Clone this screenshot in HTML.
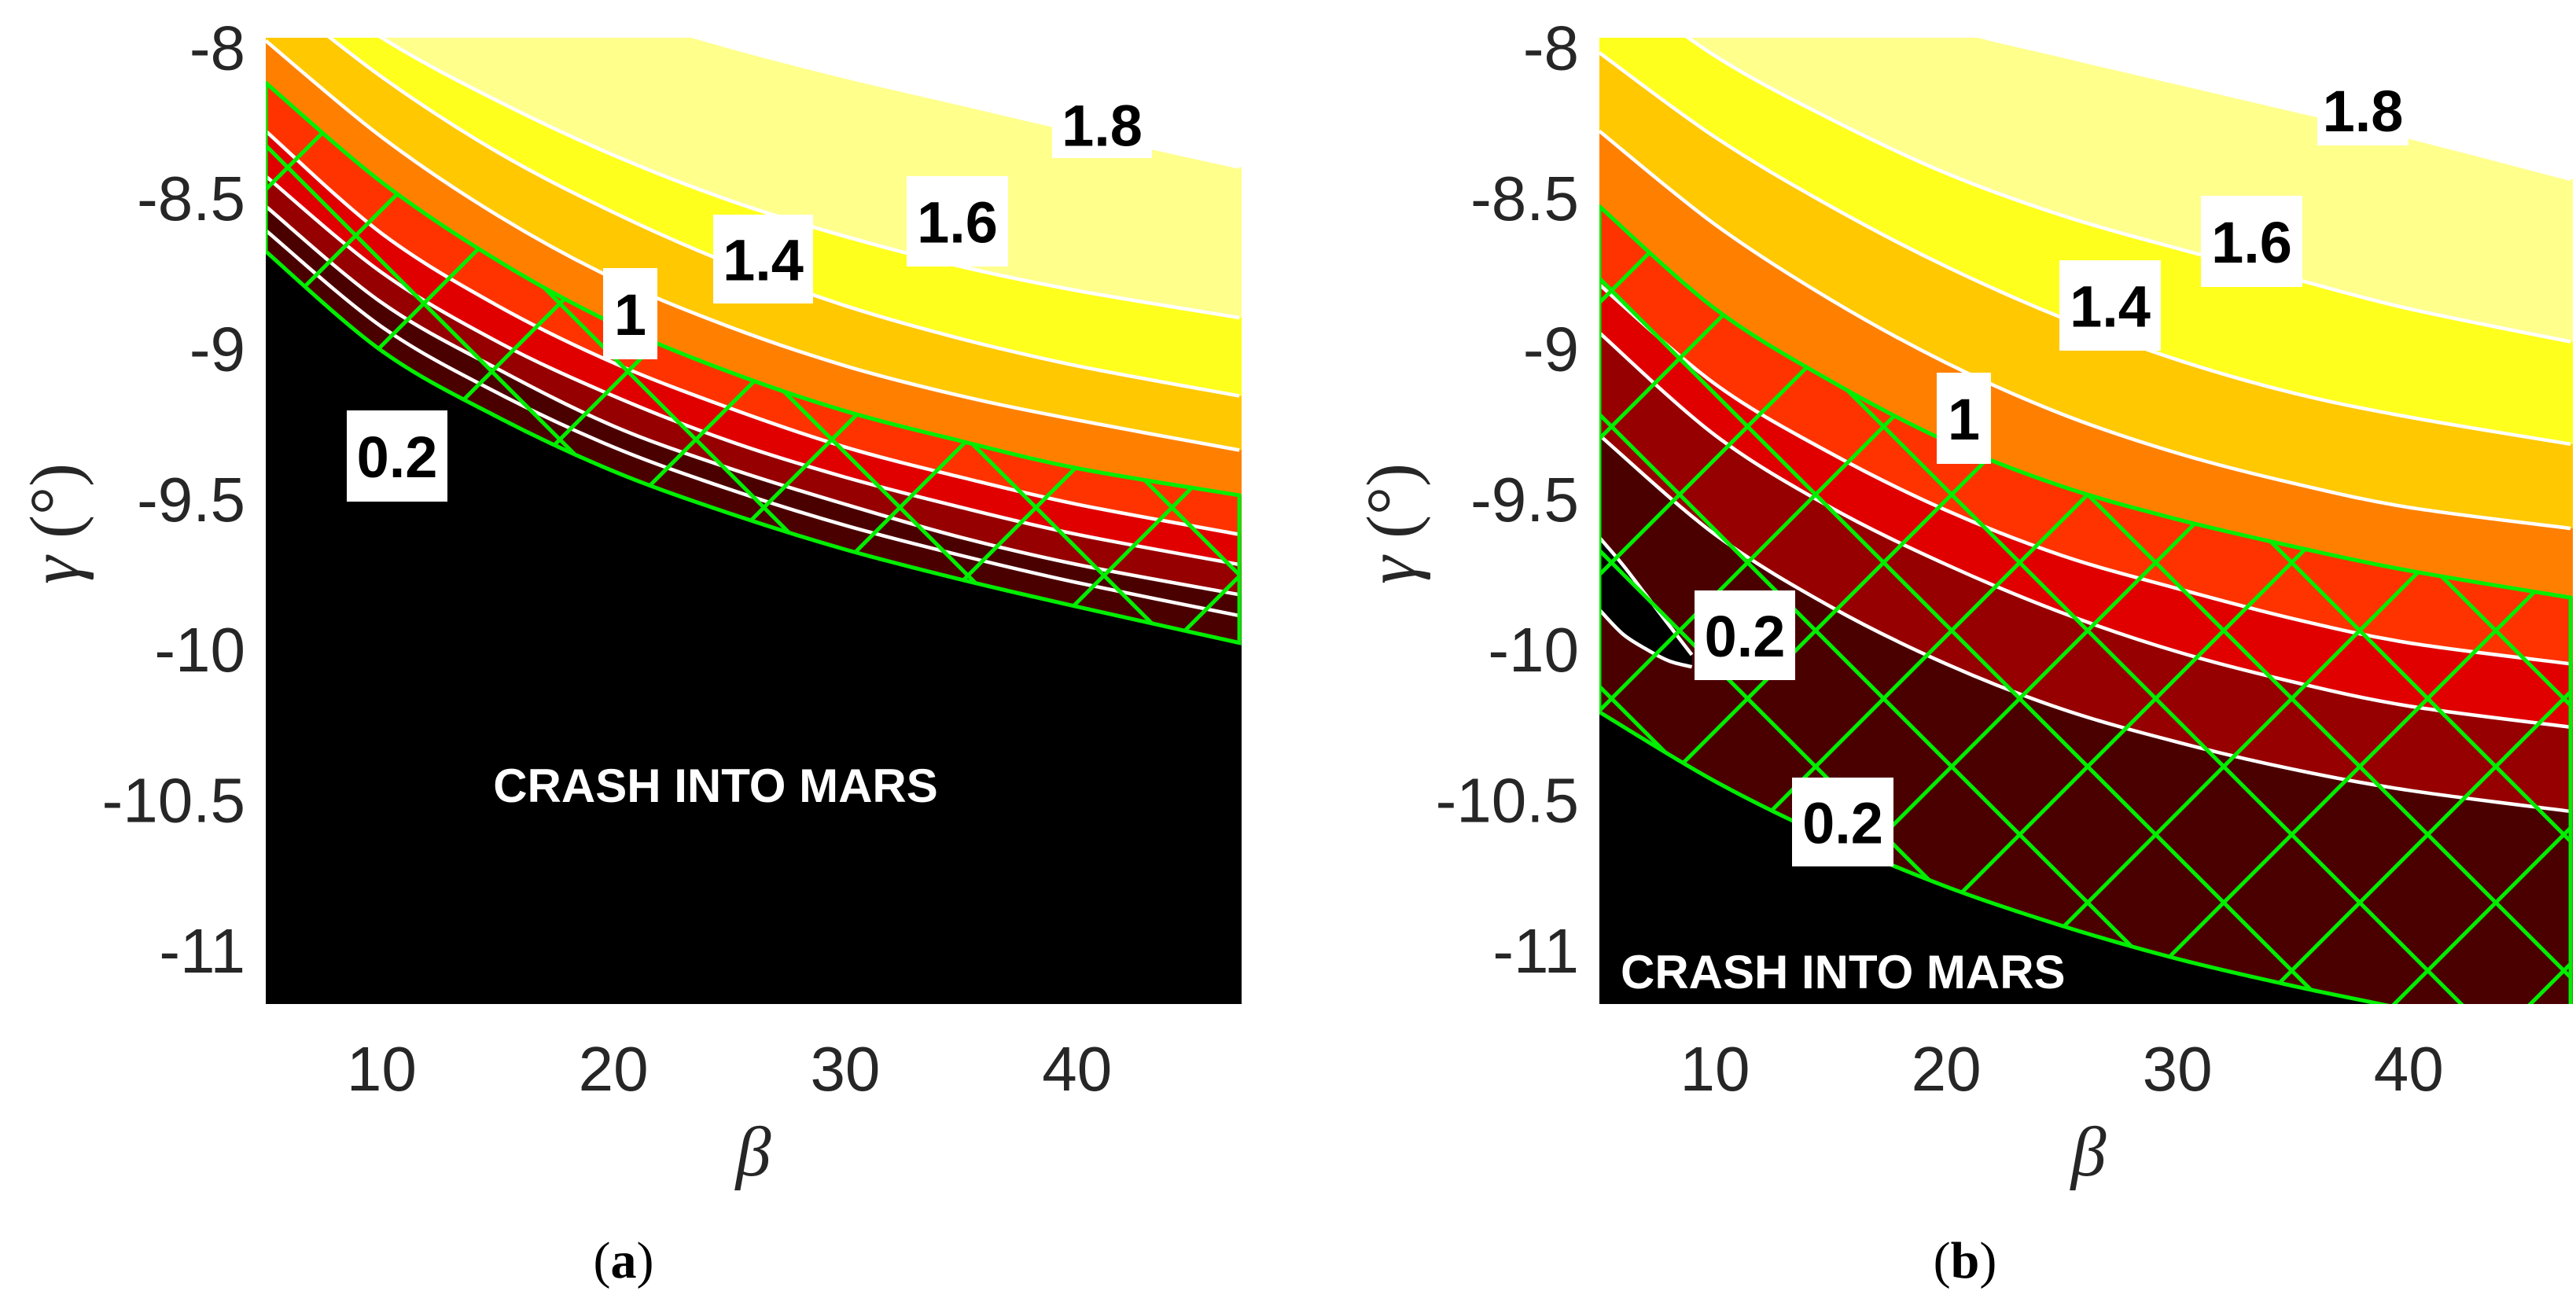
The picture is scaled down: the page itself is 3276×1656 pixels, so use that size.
<!DOCTYPE html>
<html><head><meta charset="utf-8">
<style>
html,body{margin:0;padding:0;background:#fff;}
svg{display:block;}
.tick{font-family:"Liberation Sans",sans-serif;font-size:80px;fill:#262626;}
.lbl{font-family:"Liberation Sans",sans-serif;font-size:74px;font-weight:bold;fill:#000;}
.crash{font-family:"Liberation Sans",sans-serif;font-size:60px;font-weight:bold;fill:#fff;}
.axt{font-family:"Liberation Serif",serif;font-style:italic;font-size:90px;fill:#262626;}
.cap{font-family:"Liberation Serif",serif;font-size:66px;fill:#000;}
</style></head>
<body>
<svg id="fig" width="3276" height="1656" viewBox="0 0 3276 1656" xmlns="http://www.w3.org/2000/svg">
<defs>
<pattern id="hatchA" patternUnits="userSpaceOnUse" width="173" height="173" x="20" y="40">
<path d="M0,0 L173,173 M173,0 L0,173" stroke="#00ee00" stroke-width="5" fill="none"/>
</pattern>
<pattern id="hatchB" patternUnits="userSpaceOnUse" width="173" height="173" x="60" y="110">
<path d="M0,0 L173,173 M173,0 L0,173" stroke="#00ee00" stroke-width="5" fill="none"/>
</pattern>
<clipPath id="clipA"><rect x="338" y="48" width="1241" height="1229"/></clipPath>
<clipPath id="clipB"><rect x="2034" y="48" width="1238" height="1229"/></clipPath>
</defs>
</svg>
<script>
const betaGrid = [5,10,15,20,25,30,35,40,47];
const levels = [1.8,1.6,1.4,1.2,1.0,0.8,0.6,0.4,0.2];
const bandColors = ["#ffff8c","#ffff1e","#ffc800","#ff8000","#ff3300","#e10000","#960000","#4b0000","#4b0000"];
// panel (a)
const contA_18 = [-7.2,-7.5,-7.7,-7.88,-8.00,-8.10,-8.19,-8.28,-8.40];
const contA_16 = [-7.70,-7.97,-8.18,-8.36,-8.51,-8.63,-8.73,-8.81,-8.90];
const contA_14 = [-7.80,-8.10,-8.35,-8.55,-8.72,-8.86,-8.97,-9.06,-9.16];
const contA_12 = [-7.98,-8.30,-8.56,-8.77,-8.93,-9.06,-9.16,-9.24,-9.34];
const contA_10 = [-8.12,-8.45,-8.71,-8.92,-9.08,-9.21,-9.31,-9.40,-9.49];
const contA_08 = [-8.28,-8.62,-8.86,-9.05,-9.20,-9.33,-9.43,-9.52,-9.62];
const contA_06 = [-8.43,-8.75,-8.98,-9.16,-9.31,-9.43,-9.53,-9.62,-9.72];
const contA_04 = [-8.53,-8.85,-9.07,-9.26,-9.40,-9.52,-9.63,-9.72,-9.82];
const contA_02 = [-8.61,-8.93,-9.15,-9.33,-9.47,-9.59,-9.69,-9.78,-9.89];
const crashA   = [-8.68,-9.01,-9.23,-9.41,-9.55,-9.67,-9.77,-9.86,-9.98];
// panel (b)
const contB_18 = [-7.2,-7.5,-7.75,-7.93,-8.03,-8.12,-8.21,-8.30,-8.44];
const contB_16 = [-7.75,-8.03,-8.24,-8.42,-8.56,-8.67,-8.77,-8.87,-8.98];
const contB_14 = [-8.02,-8.30,-8.53,-8.73,-8.90,-9.04,-9.15,-9.23,-9.32];
const contB_12 = [-8.28,-8.59,-8.84,-9.05,-9.22,-9.35,-9.45,-9.53,-9.60];
const contB_10 = [-8.53,-8.87,-9.11,-9.31,-9.46,-9.57,-9.66,-9.74,-9.83];
const contB_08 = [-8.79,-9.12,-9.35,-9.54,-9.69,-9.80,-9.90,-9.98,-10.05];
const contB_06 = [-8.95,-9.29,-9.53,-9.72,-9.88,-10.01,-10.11,-10.19,-10.26];
const contB_04 = [-9.29,-9.62,-9.86,-10.05,-10.20,-10.31,-10.40,-10.47,-10.54];
const crashB   = [-10.21,-10.44,-10.63,-10.79,-10.92,-11.03,-11.12,-11.20,-11.32];
const pocketBeta = [5,6,7,8,9];
const pocketTop = [-9.63,-9.72,-9.82,-9.92,-10.02];
const pocketBottom = [-9.87,-9.95,-10.00,-10.04,-10.06];
const xTicks = [10,20,30,40];
const yTicks = [-8,-8.5,-9,-9.5,-10,-10.5,-11];
const yTickLabels = ["-8","-8.5","-9","-9.5","-10","-10.5","-11"];

const NS = "http://www.w3.org/2000/svg";
const svg = document.getElementById('fig');
function mk(tag, attrs, parent){const e=document.createElementNS(NS,tag);for(const k in attrs)e.setAttribute(k,attrs[k]);(parent||svg).appendChild(e);return e;}
function smoothPath(pts){
  let d = "M"+pts[0][0].toFixed(1)+","+pts[0][1].toFixed(1);
  for(let i=0;i<pts.length-1;i++){
    const p0=pts[Math.max(0,i-1)],p1=pts[i],p2=pts[i+1],p3=pts[Math.min(pts.length-1,i+2)];
    const c1=[p1[0]+(p2[0]-p0[0])/6,p1[1]+(p2[1]-p0[1])/6];
    const c2=[p2[0]-(p3[0]-p1[0])/6,p2[1]-(p3[1]-p1[1])/6];
    d+=" C"+c1[0].toFixed(1)+","+c1[1].toFixed(1)+" "+c2[0].toFixed(1)+","+c2[1].toFixed(1)+" "+p2[0].toFixed(1)+","+p2[1].toFixed(1);
  }
  return d;
}
function smoothBack(pts){
  const r=pts.slice().reverse();
  return " L"+r[0][0].toFixed(1)+","+r[0][1].toFixed(1)+smoothPath(r).replace(/^M[^C]*/," ");
}
function panel(P){
  const g = mk('g',{});
  
  
  const X = b => P.L + (b-5)/(47.1-5)*(P.R-P.L);
  const Y = v => P.T + (-7.97-v)/3.21*(P.B-P.T);
  const pts = arr => betaGrid.map((b,i)=>[X(b),Y(arr[i])]);
  const plot = mk('g',{'clip-path':'url(#'+P.clip+')'},g);
  
  
  mk('rect',{x:P.L,y:P.T,width:P.R-P.L,height:P.B-P.T,fill:'#ffffff'},plot);
  const fillBelow = p => smoothPath(p)+" L"+(P.R+20)+","+p[p.length-1][1].toFixed(1)+" L"+(P.R+20)+","+(P.B+50)+" L"+(P.L-20)+","+(P.B+50)+" L"+(P.L-20)+","+p[0][1].toFixed(1)+" Z";
  P.conts.forEach((c,i)=>{
    const band = mk('path',{d:fillBelow(pts(c)),fill:bandColors[i]},plot);
    
    
  });
  if(P.pocket){
    const a = pocketBeta.map((b,i)=>[X(b),Y(pocketTop[i])]);
    const bb = pocketBeta.map((b,i)=>[X(b),Y(pocketBottom[i])]);
    const pk = mk('path',{d:smoothPath(a)+smoothBack(bb)+" Z",fill:'#000'},plot);
    
    
    [a,bb].forEach(q=>{const l=mk('path',{d:smoothPath(q),fill:'none',stroke:'#fff','stroke-width':4.5},plot);
      
      });
  }
  const cr = mk('path',{d:fillBelow(pts(P.crash)),fill:'#000'},plot);
  
  
  P.conts.forEach((c,i)=>{
    if(P.skipLine && P.skipLine.includes(i)) return;
    const l = mk('path',{d:smoothPath(pts(c)),fill:'none',stroke:'#fff','stroke-width':4.5},plot);
    
    
  });
  const cl = mk('path',{d:smoothPath(pts(P.crash)),fill:'none',stroke:'#fff','stroke-width':4.5,'stroke-dasharray':'8 6'},plot);
  
  
  const top = pts(P.conts[4]), bot = pts(P.crash);
  const h = mk('path',{d:smoothPath(top)+smoothBack(bot)+" Z",fill:'url(#'+P.hatch+')',stroke:'#00ee00','stroke-width':5},plot);
  
  
  P.labels.forEach(lb=>{
    const bg = mk('rect',{x:lb[1],y:lb[2],width:lb[3],height:lb[4],fill:'#fff'},g);
    
    
    const t = mk('text',{x:lb[1]+lb[3]/2,y:lb[2]+lb[4]/2+27,'text-anchor':'middle',class:'lbl'},g);
    t.textContent = lb[0];
    
    
  });
  const ct = mk('text',{x:P.crashX,y:P.crashY,'text-anchor':P.crashAnchor,class:'crash'},g);
  ct.textContent='CRASH INTO MARS';
  
  
  xTicks.forEach(v=>{
    const t=mk('text',{x:X(v),y:1387,'text-anchor':'middle',class:'tick'},g);
    t.textContent=v;
    
    
  });
  yTicks.forEach((v,i)=>{
    const t=mk('text',{x:P.L-26,y:Y(v)+29,'text-anchor':'end',class:'tick'},g);
    t.textContent=yTickLabels[i];
    
    
  });
  const xt=mk('text',{x:P.xtX,y:1495,'text-anchor':'middle',class:'axt'},g);
  xt.textContent='β';
  
  
  const yt=mk('text',{x:0,y:0,'text-anchor':'middle',class:'axt',transform:'translate('+(P.ytX)+',666) rotate(-90)'},g);
  yt.innerHTML='γ <tspan font-style="normal">(°)</tspan>';
  
  
  const cap=mk('text',{x:P.capX,y:1625,'text-anchor':'middle',class:'cap'},g);
  cap.innerHTML='(<tspan font-weight="bold">'+P.cap+'</tspan>)';
  
  
}
panel({name:'panel-a',L:338,R:1579,T:48,B:1277,clip:'clipA',hatch:'hatchA',
  conts:[contA_18,contA_16,contA_14,contA_12,contA_10,contA_08,contA_06,contA_04,contA_02],crash:crashA,
  labels:[["1.8",1338,116,127,85],["1.6",1153,224,129,115],["1.4",907,273,127,113],["1",767,341,69,116],["0.2",441,522,128,116]],
  crashX:910,crashY:1020,crashAnchor:'middle',xtX:958,ytX:100,capX:793,cap:'a'});
panel({name:'panel-b',L:2034,R:3272,T:48,B:1277,clip:'clipB',hatch:'hatchB',pocket:true,
  conts:[contB_18,contB_16,contB_14,contB_12,contB_10,contB_08,contB_06,contB_04,contB_04],crash:crashB,skipLine:[8],
  labels:[["1.8",2947,95,116,90],["1.6",2799,249,129,116],["1.4",2619,331,129,115],["1",2463,474,69,116],["0.2",2155,751,128,114],["0.2",2279,989,129,113]],
  crashX:2061,crashY:1257,crashAnchor:'start',xtX:2656,ytX:1800,capX:2499,cap:'b'});
</script>
</body></html>
